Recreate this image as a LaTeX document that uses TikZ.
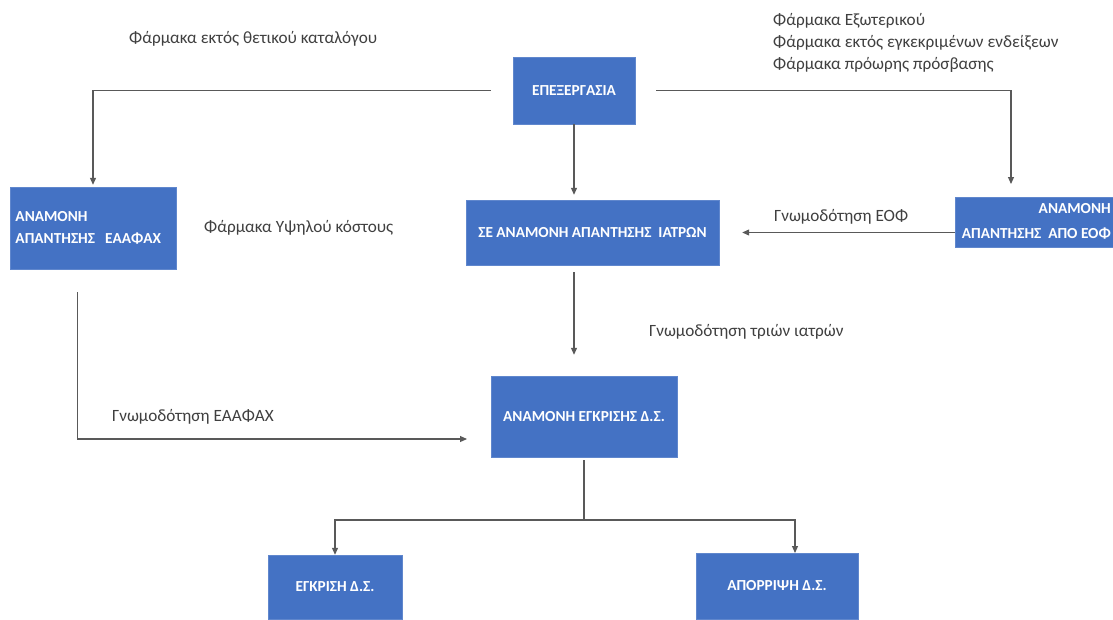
\documentclass[tikz,border=0pt]{standalone}
\usepackage{fontspec}
\setmainfont{Carlito}
\usetikzlibrary{arrows.meta}
\definecolor{boxblue}{HTML}{4472C4}
\definecolor{linegray}{HTML}{595959}
\definecolor{txtgray}{HTML}{404040}
\begin{document}
\begin{tikzpicture}[x=1pt,y=-1pt,
  bluebox/.style={draw=boxblue!85!white,fill=boxblue,text=white,font=\fontsize{15.3}{22}\selectfont\bfseries,inner sep=0pt},
  boxtext/.style={text=white,font=\fontsize{15.3}{25}\selectfont\bfseries,inner sep=0pt},
  lbl/.style={text=txtgray,font=\fontsize{17.2}{22}\selectfont,inner sep=0pt,anchor=west},
  conn/.style={draw=linegray,line width=1.1pt},
  arr/.style={conn,-{Triangle[length=7pt,width=6pt]}}]
\useasboundingbox (0,0) rectangle (1113,619);
\clip (0,0) rectangle (1113,619);
\fill[white] (0,0) rectangle (1113,619);
% boxes
\node[bluebox,minimum width=122pt,minimum height=67pt] (epex) at (574,90.5) {ΕΠΕΞΕΡΓΑΣΙΑ};
\node[bluebox,minimum width=166pt,minimum height=82pt,text width=155pt,align=left] (eaafax) at (93,228) {ΑΝΑΜΟΝΗ\\ΑΠΑΝΤΗΣΗΣ~~ΕΑΑΦΑΧ};
\node[bluebox,minimum width=253pt,minimum height=65pt] (iatron) at (592.5,232.5) {ΣΕ ΑΝΑΜΟΝΗ ΑΠΑΝΤΗΣΗΣ~~ΙΑΤΡΩΝ};
\node[bluebox,minimum width=160pt,minimum height=50pt] (eof) at (1035,222) {};
\node[boxtext,align=right,anchor=east] (eoftxt) at (1111,221) {ΑΝΑΜΟΝΗ\\ΑΠΑΝΤΗΣΗΣ~~ΑΠΟ ΕΟΦ};
\node[bluebox,minimum width=186pt,minimum height=81pt] (ds) at (584,416.5) {ΑΝΑΜΟΝΗ ΕΓΚΡΙΣΗΣ Δ.Σ.};
\node[bluebox,minimum width=134pt,minimum height=64pt] (egk) at (335,587) {ΕΓΚΡΙΣΗ Δ.Σ.};
\node[bluebox,minimum width=162pt,minimum height=66pt] (apo) at (777,586) {ΑΠΟΡΡΙΨΗ Δ.Σ.};
% labels
\node[lbl] (l1) at (129,39) {Φάρμακα εκτός θετικού καταλόγου};
\node[lbl,align=left] (l2) at (773,43) {Φάρμακα Εξωτερικού\\Φάρμακα εκτός εγκεκριμένων ενδείξεων\\Φάρμακα πρόωρης πρόσβασης};
\node[lbl] (l3) at (204,228) {Φάρμακα Υψηλού κόστους};
\node[lbl] (l4) at (774,217) {Γνωμοδότηση ΕΟΦ};
\node[lbl] (l5) at (649,332) {Γνωμοδότηση τριών ιατρών};
\node[lbl] (l6) at (112,417) {Γνωμοδότηση ΕΑΑΦΑΧ};
% coordinates for free ends
\coordinate (eofin) at (1011,184);
\coordinate (leftstart) at (77.5,292);
\coordinate (dsin) at (467,439);
\coordinate (apoin) at (795,553);
\coordinate (split) at (584,520);
% connectors
\draw[arr,shorten <=22pt,shorten >=2pt] (epex.west) -| (eaafax.north);
\draw[arr,shorten <=21pt] (epex.east) -| (eofin);
\draw[arr,shorten >=5pt] (epex.south) -- (epex.south |- iatron.north);
\draw[arr,shorten >=23pt] (eof.west |- iatron.east) -- (iatron.east);
\draw[arr,shorten <=7pt,shorten >=21pt] (epex.south |- iatron.south) -- (epex.south |- ds.north);
\draw[arr] (leftstart) |- (dsin);
\draw[conn,shorten <=3pt] (ds.south) -- (split);
\draw[arr] (split) -| (egk.north);
\draw[arr] (split) -| (apoin);
\end{tikzpicture}
\end{document}
